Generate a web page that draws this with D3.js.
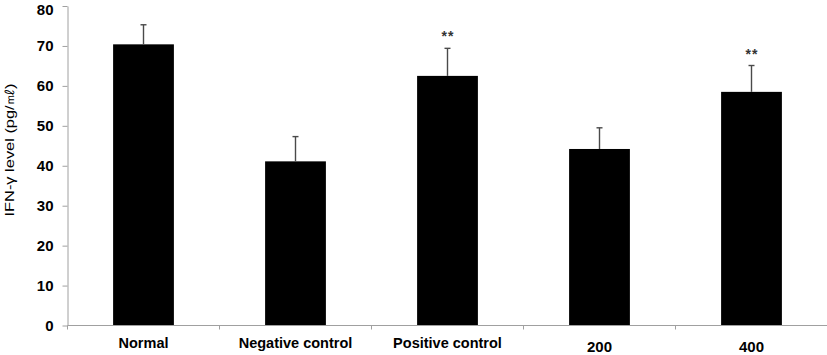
<!DOCTYPE html>
<html>
<head>
<meta charset="utf-8">
<script src="https://cdn.jsdelivr.net/npm/d3@7"></script>
<style>
  html, body { margin: 0; padding: 0; background: #fff; }
  svg { display: block; font-family: "Liberation Sans", Arial, sans-serif; }
</style>
</head>
<body>
<svg id="chart" width="827" height="355"></svg>
<script>
const categories = ["Normal", "Negative control", "Positive control", "200", "400"];
const means = [70.4, 41.1, 62.5, 44.2, 58.5];
const errors = [4.9, 6.2, 6.9, 5.3, 6.6];
const significance = ["", "", "**", "", "**"];
const yTicks = [0, 10, 20, 30, 40, 50, 60, 70, 80];
const yLabel = "IFN-γ level (pg/㎖)";

const svg = d3.select("#chart");
const plotLeft = 67.5, plotRight = 827.5, plotTop = 6, plotBottom = 325.5;

const x = d3.scaleBand().domain(categories).range([plotLeft, plotRight])
  .paddingInner(0.6).paddingOuter(0.3);
const y = d3.scaleLinear().domain([0, 80]).range([plotBottom, plotTop]);

// Y axis
const yAxis = svg.append("g").attr("transform", `translate(${plotLeft},0)`)
  .call(d3.axisLeft(y).tickValues(yTicks).tickSize(5).tickSizeOuter(0).tickPadding(9));
yAxis.select(".domain").attr("stroke", "#a0a0a0");
yAxis.selectAll(".tick line").attr("stroke", "#a0a0a0");
yAxis.selectAll(".tick text")
  .attr("font-family", "'Liberation Sans', Arial, sans-serif")
  .attr("font-size", 15).attr("font-weight", "bold").attr("fill", "#000")
  .attr("dy", d => d === 80 ? "0.56em" : "0.32em");

// Bars
svg.append("g").selectAll("rect").data(categories).join("rect")
  .attr("x", d => x(d))
  .attr("width", x.bandwidth())
  .attr("y", (d, i) => y(means[i]))
  .attr("height", (d, i) => y(0) - y(means[i]))
  .attr("fill", "#000");

// Error bars (upper only)
const eb = svg.append("g").attr("stroke", "#4a4a4a").attr("stroke-width", 1.4);
categories.forEach((c, i) => {
  const cx = x(c) + x.bandwidth() / 2;
  eb.append("line").attr("x1", cx).attr("x2", cx)
    .attr("y1", y(means[i])).attr("y2", y(means[i] + errors[i]));
  eb.append("line").attr("x1", cx - 3).attr("x2", cx + 3)
    .attr("y1", y(means[i] + errors[i])).attr("y2", y(means[i] + errors[i]));
});

// Significance markers
svg.append("g").selectAll("text").data(categories).join("text")
  .attr("x", d => x(d) + x.bandwidth() / 2 + 0.5)
  .attr("y", (d, i) => y(means[i] + errors[i]) - 7)
  .attr("text-anchor", "middle")
  .attr("font-size", 14).attr("font-weight", "bold")
  .attr("letter-spacing", 1)
  .attr("fill", "#333")
  .text((d, i) => significance[i]);

// X axis line and boundary ticks
const xa = svg.append("g").attr("stroke", "#a0a0a0").attr("stroke-width", 1);
xa.append("line").attr("x1", plotLeft).attr("x2", plotRight).attr("y1", plotBottom).attr("y2", plotBottom);
d3.range(categories.length + 1).forEach(k => {
  const bx = x.range()[0] + k * x.step();
  xa.append("line").attr("x1", bx).attr("x2", bx).attr("y1", plotBottom).attr("y2", plotBottom + 4);
});

// X labels
svg.append("g").selectAll("text").data(categories).join("text")
  .attr("x", d => x(d) + x.bandwidth() / 2)
  .attr("y", d => /^\d+$/.test(d) ? 352 : 348.3)
  .attr("text-anchor", "middle")
  .attr("font-size", d => /^\d+$/.test(d) ? 15 : 14.5)
  .attr("font-weight", "bold")
  .attr("fill", "#000")
  .text(d => d);

// Y axis title
svg.append("text")
  .attr("transform", "translate(13.5,150) rotate(-90)")
  .attr("text-anchor", "middle")
  .attr("font-size", 13)
  .attr("fill", "#000")
  .attr("textLength", 133)
  .attr("lengthAdjust", "spacingAndGlyphs")
  .text(yLabel);
</script>
</body>
</html>
